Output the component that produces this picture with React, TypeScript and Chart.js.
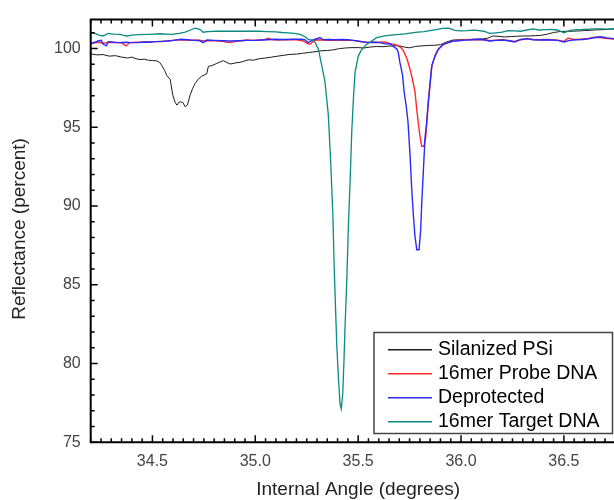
import React, { useEffect, useRef } from "react";
import { Chart, registerables } from "chart.js";

Chart.register(...registerables);

// ---------- data ----------
const silanizedAngle = [34.20, 34.23, 34.26, 34.29, 34.32, 34.35, 34.38, 34.40, 34.42, 34.44, 34.46, 34.48, 34.50, 34.52, 34.535, 34.546, 34.56, 34.57, 34.586, 34.599, 34.61, 34.619, 34.631, 34.648, 34.659, 34.670, 34.683, 34.695, 34.707, 34.722, 34.740, 34.764, 34.772, 34.789, 34.81, 34.83, 34.845, 34.862, 34.878, 34.90, 34.93, 34.967, 34.99, 35.02, 35.05, 35.08, 35.11, 35.14, 35.17, 35.20, 35.23, 35.26, 35.29, 35.32, 35.35, 35.38, 35.41, 35.44, 35.47, 35.50, 35.53, 35.56, 35.59, 35.62, 35.65, 35.68, 35.70, 35.73, 35.75, 35.78, 35.81, 35.84, 35.87, 35.90, 35.93, 35.96, 35.99, 36.02, 36.05, 36.08, 36.11, 36.13, 36.155, 36.18, 36.21, 36.24, 36.27, 36.30, 36.33, 36.36, 36.39, 36.42, 36.45, 36.48, 36.51, 36.54, 36.57, 36.60, 36.63, 36.66, 36.69, 36.72, 36.75, 36.78, 36.80];
const silanizedReflectance = [99.66, 99.60, 99.62, 99.52, 99.55, 99.46, 99.40, 99.46, 99.36, 99.30, 99.33, 99.26, 99.24, 99.22, 99.12, 98.92, 98.60, 98.29, 98.05, 97.04, 96.60, 96.41, 96.62, 96.58, 96.31, 96.41, 97.04, 97.45, 97.77, 98.05, 98.25, 98.40, 98.87, 98.92, 99.04, 99.16, 99.23, 99.12, 99.02, 99.08, 99.14, 99.29, 99.26, 99.36, 99.40, 99.46, 99.52, 99.58, 99.63, 99.65, 99.70, 99.75, 99.80, 99.86, 99.88, 99.92, 100.00, 100.04, 100.06, 100.06, 100.04, 100.10, 100.13, 100.12, 100.16, 100.18, 100.17, 100.08, 100.05, 100.14, 100.17, 100.20, 100.21, 100.25, 100.42, 100.54, 100.56, 100.57, 100.58, 100.60, 100.62, 100.66, 100.80, 100.78, 100.74, 100.76, 100.78, 100.80, 100.80, 100.82, 100.84, 100.92, 101.02, 101.08, 101.10, 101.10, 101.12, 101.14, 101.16, 101.19, 101.20, 101.23, 101.26, 101.28, 101.30];

const probeAngle = [34.20, 34.22, 34.24, 34.26, 34.28, 34.30, 34.33, 34.35, 34.372, 34.39, 34.42, 34.45, 34.48, 34.51, 34.54, 34.57, 34.60, 34.63, 34.66, 34.69, 34.72, 34.75, 34.78, 34.81, 34.84, 34.865, 34.882, 34.90, 34.93, 34.96, 34.99, 35.02, 35.045, 35.062, 35.08, 35.11, 35.14, 35.17, 35.20, 35.23, 35.25, 35.266, 35.28, 35.30, 35.33, 35.36, 35.39, 35.42, 35.45, 35.475, 35.50, 35.543, 35.575, 35.606, 35.631, 35.655, 35.679, 35.695, 35.708, 35.720, 35.736, 35.752, 35.763, 35.776, 35.785, 35.793, 35.801, 35.809, 35.820, 35.828, 35.833, 35.841, 35.858, 35.874, 35.890, 35.914, 35.938, 35.96, 35.99, 36.02, 36.05, 36.08, 36.11, 36.14, 36.17, 36.20, 36.23, 36.26, 36.29, 36.32, 36.35, 36.38, 36.41, 36.44, 36.47, 36.50, 36.52, 36.55, 36.58, 36.61, 36.64, 36.67, 36.70, 36.73, 36.76, 36.80];
const probeReflectance = [100.30, 100.36, 100.40, 100.34, 100.38, 100.40, 100.38, 100.36, 100.17, 100.38, 100.40, 100.40, 100.42, 100.44, 100.44, 100.48, 100.52, 100.56, 100.54, 100.52, 100.54, 100.48, 100.50, 100.50, 100.46, 100.40, 100.38, 100.46, 100.50, 100.54, 100.52, 100.54, 100.56, 100.66, 100.58, 100.54, 100.56, 100.58, 100.56, 100.50, 100.34, 100.27, 100.44, 100.56, 100.54, 100.52, 100.54, 100.52, 100.54, 100.52, 100.46, 100.40, 100.40, 100.40, 100.42, 100.31, 100.27, 100.17, 100.06, 99.85, 99.40, 98.70, 98.10, 97.30, 96.10, 95.20, 94.40, 93.80, 93.80, 94.33, 95.16, 96.60, 98.90, 99.54, 99.96, 100.27, 100.38, 100.46, 100.52, 100.56, 100.58, 100.56, 100.58, 100.50, 100.54, 100.56, 100.52, 100.46, 100.56, 100.62, 100.58, 100.56, 100.58, 100.56, 100.54, 100.46, 100.66, 100.58, 100.60, 100.62, 100.70, 100.72, 100.66, 100.62, 100.58, 100.58];

const deprotectedAngle = [34.20, 34.22, 34.236, 34.251, 34.261, 34.276, 34.285, 34.31, 34.34, 34.37, 34.40, 34.431, 34.46, 34.49, 34.513, 34.545, 34.577, 34.61, 34.639, 34.67, 34.707, 34.73, 34.746, 34.765, 34.80, 34.84, 34.88, 34.92, 34.96, 34.999, 35.03, 35.06, 35.096, 35.13, 35.16, 35.19, 35.223, 35.24, 35.257, 35.275, 35.291, 35.315, 35.33, 35.36, 35.39, 35.42, 35.45, 35.475, 35.50, 35.543, 35.575, 35.606, 35.631, 35.655, 35.679, 35.689, 35.695, 35.703, 35.716, 35.723, 35.733, 35.742, 35.752, 35.760, 35.768, 35.776, 35.785, 35.796, 35.804, 35.809, 35.817, 35.825, 35.833, 35.841, 35.858, 35.874, 35.890, 35.914, 35.938, 35.96, 35.99, 36.02, 36.05, 36.08, 36.11, 36.14, 36.17, 36.20, 36.23, 36.26, 36.29, 36.32, 36.35, 36.38, 36.41, 36.44, 36.47, 36.50, 36.53, 36.56, 36.59, 36.62, 36.65, 36.68, 36.71, 36.74, 36.77, 36.80];
const deprotectedReflectance = [100.32, 100.40, 100.48, 100.52, 100.27, 100.17, 100.44, 100.40, 100.38, 100.40, 100.38, 100.38, 100.42, 100.40, 100.44, 100.46, 100.48, 100.54, 100.59, 100.56, 100.52, 100.50, 100.38, 100.54, 100.52, 100.50, 100.48, 100.50, 100.52, 100.52, 100.54, 100.56, 100.59, 100.58, 100.58, 100.60, 100.59, 100.56, 100.38, 100.52, 100.59, 100.70, 100.56, 100.58, 100.56, 100.58, 100.56, 100.52, 100.48, 100.38, 100.40, 100.38, 100.30, 100.31, 100.06, 99.96, 99.75, 99.12, 98.30, 97.30, 96.40, 95.40, 93.30, 91.20, 89.50, 88.10, 87.23, 87.23, 88.49, 90.15, 92.24, 94.33, 95.30, 96.60, 98.90, 99.54, 99.96, 100.27, 100.38, 100.48, 100.50, 100.54, 100.56, 100.59, 100.56, 100.48, 100.52, 100.54, 100.50, 100.42, 100.58, 100.63, 100.56, 100.54, 100.56, 100.54, 100.52, 100.42, 100.52, 100.56, 100.58, 100.62, 100.70, 100.75, 100.68, 100.63, 100.62, 100.62];

const targetAngle = [34.20, 34.22, 34.24, 34.26, 34.285, 34.31, 34.343, 34.36, 34.377, 34.40, 34.43, 34.479, 34.51, 34.537, 34.566, 34.596, 34.63, 34.659, 34.685, 34.708, 34.732, 34.746, 34.77, 34.805, 34.84, 34.878, 34.92, 34.96, 35.023, 35.06, 35.10, 35.13, 35.159, 35.19, 35.218, 35.242, 35.257, 35.275, 35.291, 35.307, 35.323, 35.339, 35.355, 35.367, 35.377, 35.383, 35.388, 35.396, 35.404, 35.412, 35.418, 35.425, 35.431, 35.436, 35.445, 35.452, 35.461, 35.469, 35.477, 35.485, 35.501, 35.518, 35.542, 35.566, 35.590, 35.606, 35.63, 35.66, 35.70, 35.73, 35.76, 35.79, 35.82, 35.85, 35.88, 35.91, 35.94, 35.97, 36.00, 36.03, 36.06, 36.09, 36.11, 36.14, 36.17, 36.20, 36.23, 36.26, 36.29, 36.32, 36.35, 36.38, 36.41, 36.44, 36.47, 36.50, 36.53, 36.56, 36.59, 36.62, 36.65, 36.68, 36.71, 36.74, 36.80];
const targetReflectance = [101.00, 100.96, 100.86, 100.80, 100.96, 100.92, 100.90, 100.84, 100.80, 100.86, 100.88, 100.90, 100.92, 100.94, 100.92, 100.90, 100.96, 101.04, 101.18, 101.30, 101.21, 101.04, 101.08, 101.10, 101.10, 101.10, 101.10, 101.10, 101.10, 101.08, 101.06, 101.02, 101.00, 100.96, 100.90, 100.75, 100.59, 100.54, 100.38, 99.96, 98.92, 97.87, 95.79, 92.66, 89.50, 86.40, 84.33, 81.19, 79.10, 77.43, 77.12, 78.06, 80.15, 82.23, 85.36, 88.49, 91.61, 94.74, 96.83, 98.50, 99.54, 99.96, 100.27, 100.48, 100.69, 100.75, 100.80, 100.86, 100.90, 100.94, 101.00, 101.04, 101.08, 101.14, 101.20, 101.28, 101.30, 101.16, 101.12, 101.14, 101.17, 101.14, 101.10, 100.96, 101.00, 101.04, 101.14, 101.12, 101.10, 101.18, 101.25, 101.18, 101.20, 101.21, 101.18, 101.00, 101.16, 101.20, 101.21, 101.24, 101.25, 101.25, 101.24, 101.25, 101.24];

const seriesLabels = ["Silanized PSi", "16mer Probe DNA", "Deprotected", "16mer Target DNA"];
const xTickValues = [34.5, 35.0, 35.5, 36.0, 36.5];
const yTickValues = [75, 80, 85, 90, 95, 100];

// ---------- layout / style ----------
const X_MIN = 34.2;
const X_MAX = 36.8;
const Y_MIN = 75;
const Y_MAX = 101.84;
const FONT = "'Liberation Sans', Arial, sans-serif";
const COLORS = ["#1c1c1c", "#ff2a2a", "#2a2aff", "#0a8a82"];
const WIDTHS = [1, 1.4, 1.4, 1.3];

const toPoints = (xs: number[], ys: number[]) => xs.map((x, i) => ({ x, y: ys[i] }));

const framePlugin = {
  id: "frame",
  afterDraw(chart: any) {
    const { ctx, chartArea: a, scales } = chart;
    const xs = scales.x;
    const ys = scales.y;
    ctx.save();
    // axes
    ctx.strokeStyle = "#000";
    ctx.lineWidth = 2;
    ctx.beginPath();
    ctx.moveTo(a.left, a.top);
    ctx.lineTo(a.right, a.top);
    ctx.lineTo(a.right, a.bottom);
    ctx.lineTo(a.left, a.bottom);
    ctx.closePath();
    ctx.stroke();
    // ticks (inward)
    ctx.lineWidth = 1.5;
    ctx.beginPath();
    const i0 = Math.ceil(X_MIN / 0.05 - 1e-6);
    const i1 = Math.floor(X_MAX / 0.05 + 1e-6);
    for (let i = i0; i <= i1; i++) {
      const px = xs.getPixelForValue(i * 0.05);
      const len = i % 10 === 0 ? 7 : 4;
      ctx.moveTo(px, a.bottom);
      ctx.lineTo(px, a.bottom - len);
      ctx.moveTo(px, a.top);
      ctx.lineTo(px, a.top + len);
    }
    for (let v = Math.ceil(Y_MIN); v <= Math.floor(Y_MAX); v++) {
      const py = ys.getPixelForValue(v);
      const len = v % 5 === 0 ? 7 : 4;
      ctx.moveTo(a.left, py);
      ctx.lineTo(a.left + len, py);
      ctx.moveTo(a.right, py);
      ctx.lineTo(a.right - len, py);
    }
    ctx.stroke();

    // axis titles
    ctx.fillStyle = "#222";
    ctx.font = `19px ${FONT}`;
    ctx.textAlign = "center";
    ctx.textBaseline = "middle";
    ctx.fillText("Internal Angle (degrees)", (a.left + a.right) / 2, 490);
    ctx.save();
    ctx.translate(20, (a.top + a.bottom) / 2 - 2);
    ctx.rotate(-Math.PI / 2);
    ctx.fillText("Reflectance (percent)", 0, 0);
    ctx.restore();

    // legend
    const bx = 374, by = 332.5, bw = 238.5, bh = 101;
    ctx.fillStyle = "#fff";
    ctx.fillRect(bx, by, bw, bh);
    ctx.strokeStyle = "#444";
    ctx.lineWidth = 1.5;
    ctx.strokeRect(bx, by, bw, bh);
    ctx.font = `19.5px ${FONT}`;
    ctx.textAlign = "left";
    ctx.textBaseline = "middle";
    seriesLabels.forEach((lab, k) => {
      const y = 349 + k * 24;
      ctx.fillStyle = COLORS[k];
      ctx.fillRect(388, y, 44, 1.5);
      ctx.fillStyle = "#000";
      ctx.fillText(lab, 438, y + 1);
    });
    ctx.restore();
  },
};

export default function App() {
  const ref = useRef<HTMLCanvasElement | null>(null);
  useEffect(() => {
    if (!ref.current) return;
    const seriesData = [
      toPoints(silanizedAngle, silanizedReflectance),
      toPoints(probeAngle, probeReflectance),
      toPoints(deprotectedAngle, deprotectedReflectance),
      toPoints(targetAngle, targetReflectance),
    ];
    const chart = new Chart(ref.current, {
      type: "line",
      data: {
        datasets: seriesData.map((d, k) => ({
          label: seriesLabels[k],
          data: d,
          borderColor: COLORS[k],
          borderWidth: WIDTHS[k],
          pointRadius: 0,
          tension: 0,
          fill: false,
          order: [3, 2, 1, 0][k],
        })),
      },
      options: {
        responsive: false,
        animation: false,
        devicePixelRatio: 1,
        layout: { padding: { top: 13.3, right: 14.4, left: 0, bottom: 0 } },
        plugins: { legend: { display: false }, tooltip: { enabled: false } },
        scales: {
          x: {
            type: "linear",
            min: X_MIN,
            max: X_MAX,
            grid: { display: false, drawTicks: false },
            border: { display: false },
            ticks: {
              font: { family: FONT, size: 16 },
              color: "#444",
              padding: 10,
              maxRotation: 0,
              autoSkip: false,
              callback: (v: any) => Number(v).toFixed(1),
            },
            afterBuildTicks: (s: any) => {
              s.ticks = xTickValues.map((v) => ({ value: v }));
            },
            afterFit: (s: any) => {
              s.height = 57.7;
            },
          },
          y: {
            type: "linear",
            min: Y_MIN,
            max: Y_MAX,
            grid: { display: false, drawTicks: false },
            border: { display: false },
            ticks: {
              font: { family: FONT, size: 16 },
              color: "#444",
              padding: 10,
              autoSkip: false,
              callback: (v: any) => String(v),
            },
            afterBuildTicks: (s: any) => {
              s.ticks = yTickValues.map((v) => ({ value: v }));
            },
            afterFit: (s: any) => {
              s.width = 90.7;
            },
          },
        },
      },
      plugins: [framePlugin],
    } as any);
    return () => chart.destroy();
  }, []);

  return (
    <div
      style={{
        position: "fixed",
        left: 0,
        top: 0,
        width: 614,
        height: 500,
        overflow: "hidden",
        background: "#fff",
      }}
    >
      <canvas ref={ref} width={640} height={500} style={{ display: "block" }} />
    </div>
  );
}
